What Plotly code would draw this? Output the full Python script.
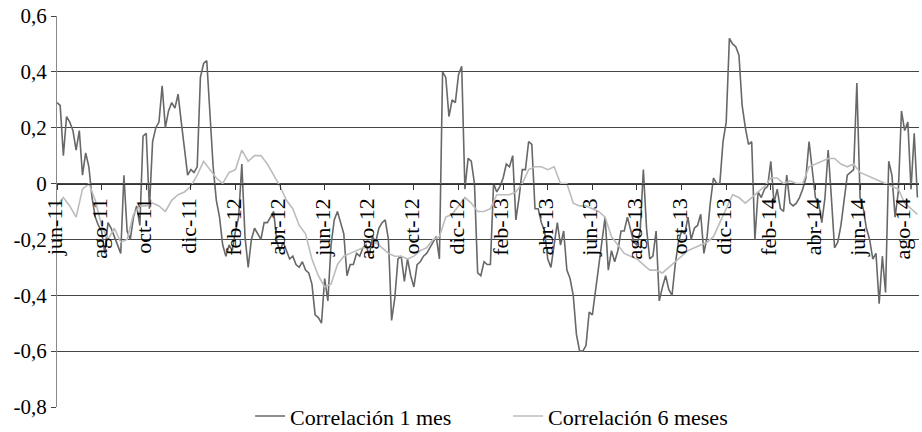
import plotly.graph_objects as go

# Tick labels (one every two months)
month_labels = ["jun-11", "ago-11", "oct-11", "dic-11", "feb-12", "abr-12", "jun-12",
                "ago-12", "oct-12", "dic-12", "feb-13", "abr-13", "jun-13", "ago-13",
                "oct-13", "dic-13", "feb-14", "abr-14", "jun-14", "ago-14"]

# 1-month rolling correlation (7 observations per month)
corr_1m = [
    0.29, 0.28, 0.10, 0.24, 0.22, 0.19, 0.12, 0.19, 0.03, 0.11,
    0.06, -0.05, -0.12, -0.15, -0.17, -0.25, -0.14, -0.16, -0.19, -0.22,
    -0.25, 0.03, -0.17, -0.20, -0.12, -0.08, -0.15, 0.17, 0.18, -0.09,
    0.15, 0.20, 0.22, 0.35, 0.20, 0.26, 0.29, 0.27, 0.32, 0.22,
    0.12, 0.03, 0.05, 0.04, 0.06, 0.38, 0.43, 0.44, 0.25, 0.06,
    -0.06, -0.12, -0.22, -0.26, -0.22, -0.24, -0.17, -0.12, 0.07, -0.19,
    -0.30, -0.20, -0.16, -0.18, -0.20, -0.14, -0.14, -0.12, -0.10, -0.21,
    -0.24, -0.21, -0.24, -0.27, -0.26, -0.29, -0.30, -0.28, -0.31, -0.32,
    -0.36, -0.47, -0.48, -0.50, -0.34, -0.42, -0.22, -0.13, -0.10, -0.14,
    -0.18, -0.33, -0.29, -0.29, -0.25, -0.26, -0.23, -0.22, -0.26, -0.19,
    -0.21, -0.16, -0.14, -0.13, -0.20, -0.49, -0.41, -0.27, -0.26, -0.35,
    -0.27, -0.33, -0.37, -0.29, -0.28, -0.26, -0.25, -0.23, -0.21, -0.19,
    -0.27, 0.40, 0.38, 0.24, 0.30, 0.29, 0.39, 0.42, -0.02, 0.09,
    0.08, 0.00, -0.32, -0.33, -0.28, -0.29, -0.29, 0.00, -0.03, -0.01,
    0.02, 0.07, 0.06, 0.10, -0.13, -0.05, 0.05, 0.05, 0.15, 0.14,
    -0.09, -0.09, -0.14, -0.17, -0.27, -0.30, -0.22, -0.14, -0.22, -0.17,
    -0.31, -0.34, -0.40, -0.54, -0.60, -0.60, -0.58, -0.46, -0.47, -0.38,
    -0.29, -0.19, -0.12, -0.31, -0.24, -0.28, -0.24, -0.17, -0.17, -0.12,
    -0.17, -0.21, -0.22, -0.17, 0.05, -0.16, -0.27, -0.26, -0.17, -0.42,
    -0.37, -0.33, -0.38, -0.40, -0.29, -0.21, -0.17, -0.18, -0.12, -0.20,
    -0.16, -0.15, -0.11, -0.25, -0.19, -0.07, 0.02, 0.00, 0.00, 0.15,
    0.22, 0.52, 0.50, 0.49, 0.46, 0.28, 0.20, 0.14, 0.15, -0.20,
    -0.03, -0.05, -0.02, -0.01, 0.08, -0.07, -0.02, -0.09, -0.10, 0.03,
    -0.07, -0.08, -0.07, -0.05, -0.02, 0.02, 0.15, 0.06, -0.05, -0.07,
    -0.14, -0.05, 0.12, -0.05, -0.23, -0.21, -0.15, -0.06, 0.03, 0.04,
    0.05, 0.36, -0.05, -0.09, -0.16, -0.20, -0.27, -0.25, -0.43, -0.26,
    -0.39, 0.08, 0.03, -0.12, -0.03, 0.26, 0.19, 0.22, -0.02, 0.18,
    -0.05,
]

# 6-month rolling correlation (sampled every second observation)
corr_6m = [
    -0.08, -0.05, -0.08, -0.12, -0.02, 0.00, -0.06, -0.15, -0.20, -0.16,
    -0.21, -0.20, -0.11, -0.08, -0.08, -0.07, -0.08, -0.10, -0.06, -0.04,
    -0.03, -0.01, 0.03, 0.08, 0.05, 0.02, 0.00, 0.04, 0.05, 0.12,
    0.08, 0.10, 0.10, 0.07, 0.03, -0.01, -0.06, -0.09, -0.15, -0.18,
    -0.27, -0.33, -0.37, -0.36, -0.29, -0.26, -0.25, -0.24, -0.23, -0.23,
    -0.21, -0.23, -0.25, -0.26, -0.26, -0.27, -0.26, -0.24, -0.23, -0.20,
    -0.19, -0.12, -0.11, -0.08, -0.05, -0.07, -0.10, -0.10, -0.09, -0.04,
    -0.04, -0.04, -0.03, 0.00, 0.05, 0.06, 0.06, 0.05, 0.06, 0.00,
    0.00, -0.07, -0.08, -0.08, -0.09, -0.10, -0.12, -0.19, -0.22, -0.25,
    -0.26, -0.27, -0.29, -0.31, -0.31, -0.32, -0.30, -0.28, -0.26, -0.24,
    -0.23, -0.22, -0.21, -0.19, -0.14, -0.09, -0.04, -0.05, -0.07, -0.05,
    -0.03, -0.01, 0.02, 0.02, 0.00, 0.01, 0.00, 0.00, 0.06, 0.07,
    0.08, 0.09, 0.09, 0.07, 0.06, 0.07, 0.04, 0.03, 0.02, 0.01,
    0.00, -0.01, -0.02, -0.07, -0.09, -0.11,
]

y_tick_values = [-0.8, -0.6, -0.4, -0.2, 0.0, 0.2, 0.4, 0.6]
y_tick_text = ["-0,8", "-0,6", "-0,4", "-0,2", "0", "0,2", "0,4", "0,6"]

OBS_PER_LABEL = 14   # observations between two month labels
STEP_6M = 2          # 6-month series sampled every second observation

x_1m = list(range(len(corr_1m)))
x_6m = [k * STEP_6M for k in range(len(corr_6m))]
x_tickvals = [k * OBS_PER_LABEL for k in range(len(month_labels))]

SERIF = "'Liberation Serif', 'Times New Roman', Tinos, 'DejaVu Serif', serif"

fig = go.Figure()
fig.add_trace(go.Scatter(x=x_1m, y=corr_1m, mode="lines", name="Correlación 1 mes",
                         line=dict(color="#686868", width=1.6)))
fig.add_trace(go.Scatter(x=x_6m, y=corr_6m, mode="lines", name="Correlación 6 meses",
                         line=dict(color="#bcbcbc", width=1.6)))

y_min, y_max = -0.8, 0.6
fig.update_layout(
    width=922, height=432,
    margin=dict(l=57, r=3, t=16, b=25, autoexpand=False),
    paper_bgcolor="white", plot_bgcolor="white",
    font=dict(family=SERIF, color="black"),
    xaxis=dict(
        range=[0, 270.5], tickvals=x_tickvals, ticktext=month_labels, tickangle=-90,
        anchor="free", position=(0 - y_min) / (y_max - y_min),
        showgrid=False, zeroline=False, showline=True, linecolor="#333333", linewidth=1,
        ticks="outside", ticklen=5, tickcolor="#333333",
        tickfont=dict(family=SERIF, size=22, color="black"), ticklabelshift=-2,
    ),
    yaxis=dict(
        range=[y_min, y_max], tickvals=y_tick_values, ticktext=y_tick_text,
        showgrid=True, gridcolor="#444444", gridwidth=1, zeroline=False,
        showline=True, linecolor="#8a8a8a", linewidth=1,
        ticks="outside", ticklen=5, tickcolor="#444444",
        tickfont=dict(family=SERIF, size=21, color="black"),
    ),
    legend=dict(orientation="h", x=0.224, xanchor="left", y=0.03, yanchor="top",
                font=dict(family=SERIF, size=22, color="black"), itemwidth=30,
                entrywidth=213, bgcolor="rgba(0,0,0,0)"),
    showlegend=True,
)

fig.write_html("out.html", config={"displayModeBar": False},
               post_script="document.body.style.margin='0';document.body.style.overflow='hidden';")
